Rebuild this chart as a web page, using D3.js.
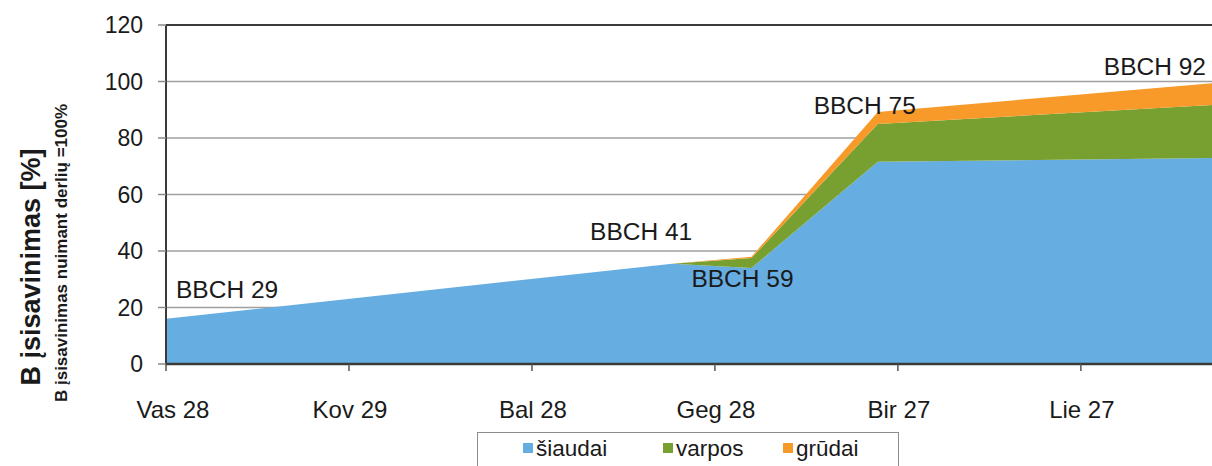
<!DOCTYPE html>
<html>
<head>
<meta charset="utf-8">
<script src="https://cdn.jsdelivr.net/npm/d3@7"></script>
<style>
  html, body { margin: 0; padding: 0; background: #fff; }
  svg { display: block; font-family: "Liberation Sans", Arial, sans-serif; }
</style>
</head>
<body>
<svg id="chart" width="1212" height="466"></svg>
<script>
// x axis ticks (days since Vas 28)
const tickDays = [0, 30, 60, 90, 120, 150];
const tickLabels = ["Vas 28", "Kov 29", "Bal 28", "Geg 28", "Bir 27", "Lie 27"];
const yTicks = [0, 20, 40, 60, 80, 100, 120];

// growth stages and B uptake per plant part (% of uptake at harvest)
const stages = ["BBCH 29", "BBCH 41", "BBCH 59", "BBCH 75", "BBCH 92"];
const stageDays = [0, 83, 96, 116.7, 171.5];
const siaudai = [16, 35.5, 34, 71.6, 72.9];
const varpos = [0, 0, 3.5, 13.4, 18.8];
const grudai = [0, 0, 0.5, 4.2, 7.7];

const keys = ["šiaudai", "varpos", "grūdai"];
const colors = ["#66ade2", "#77a030", "#f79a2a"];

const svg = d3.select("#chart");
const plotLeft = 166, plotRight = 1212, plotTop = 25, plotBottom = 364;

const x = d3.scaleLinear().domain([0, 171.5]).range([plotLeft, plotRight]);
const y = d3.scaleLinear().domain([0, 120]).range([plotBottom, plotTop]);

const rows = stageDays.map((d, i) => ({
  day: d, stage: stages[i],
  "šiaudai": siaudai[i], "varpos": varpos[i], "grūdai": grudai[i]
}));

// gridlines
svg.append("g").selectAll("line").data(yTicks.filter(v => v > 0 && v < 120)).join("line")
  .attr("x1", plotLeft).attr("x2", plotRight)
  .attr("y1", d => y(d)).attr("y2", d => y(d))
  .attr("stroke", "#a0a0a0").attr("stroke-width", 1.5);

// stacked areas
const stack = d3.stack().keys(keys)(rows);
const area = d3.area()
  .x(d => x(d.data.day))
  .y0(d => y(d[0]))
  .y1(d => y(d[1]));

svg.append("g").selectAll("path").data(stack).join("path")
  .attr("d", area)
  .attr("fill", (d, i) => colors[i]);

// frame: left axis, top border, bottom axis
svg.append("line").attr("x1", plotLeft).attr("x2", plotRight).attr("y1", plotTop).attr("y2", plotTop)
  .attr("stroke", "#3a3a3a").attr("stroke-width", 2);
svg.append("line").attr("x1", plotLeft).attr("x2", plotLeft).attr("y1", plotTop).attr("y2", plotBottom)
  .attr("stroke", "#3a3a3a").attr("stroke-width", 2);
svg.append("line").attr("x1", plotLeft).attr("x2", plotRight).attr("y1", plotBottom).attr("y2", plotBottom)
  .attr("stroke", "#3a3a3a").attr("stroke-width", 2.5);

// y ticks + labels
const yAxis = svg.append("g");
yAxis.selectAll("line").data(yTicks).join("line")
  .attr("x1", plotLeft - 8).attr("x2", plotLeft)
  .attr("y1", d => y(d)).attr("y2", d => y(d))
  .attr("stroke", "#8a8a8a").attr("stroke-width", 1.5);
yAxis.selectAll("text").data(yTicks).join("text")
  .attr("x", 143).attr("y", d => y(d) + 8)
  .attr("text-anchor", "end")
  .attr("font-size", 23).attr("fill", "#1a1a1a")
  .text(d => d);

// x ticks + labels
const xAxis = svg.append("g");
xAxis.selectAll("line").data(tickDays).join("line")
  .attr("x1", d => x(d)).attr("x2", d => x(d))
  .attr("y1", plotBottom).attr("y2", plotBottom + 7)
  .attr("stroke", "#555").attr("stroke-width", 1.5);
xAxis.selectAll("text").data(tickDays).join("text")
  .attr("x", (d, i) => x(d) + (i === 0 ? 7 : 1)).attr("y", 418)
  .attr("text-anchor", "middle")
  .attr("font-size", 24).attr("fill", "#1a1a1a")
  .text((d, i) => tickLabels[i]);

// stage labels, placed relative to the top of the stack
const labelOffsets = [
  { dx: 10, dy: -21, anchor: "start" },
  { dx: 20, dy: -24, anchor: "end" },
  { dx: -9, dy: 30, anchor: "middle" },
  { dx: -13, dy: 2, anchor: "middle" },
  { dx: -6, dy: -8, anchor: "end" }
];
svg.append("g").selectAll("text").data(rows).join("text")
  .attr("x", (d, i) => x(d.day) + labelOffsets[i].dx)
  .attr("y", (d, i) => y(d["šiaudai"] + d.varpos + d["grūdai"]) + labelOffsets[i].dy)
  .attr("text-anchor", (d, i) => labelOffsets[i].anchor)
  .attr("font-size", 24.5).attr("fill", "#1a1a1a")
  .text(d => d.stage);

// y axis titles
svg.append("text")
  .attr("transform", "translate(40, 267) rotate(-90)")
  .attr("text-anchor", "middle")
  .attr("font-size", 27).attr("font-weight", "bold").attr("fill", "#1a1a1a")
  .text("B įsisavinimas [%]");
svg.append("text")
  .attr("transform", "translate(67, 253) rotate(-90)")
  .attr("text-anchor", "middle")
  .attr("font-size", 17).attr("font-weight", "bold").attr("fill", "#1a1a1a")
  .text("B įsisavinimas nuimant derlių =100%");

// legend
const legend = svg.append("g");
legend.append("rect")
  .attr("x", 477.5).attr("y", 432.5).attr("width", 421).attr("height", 40)
  .attr("fill", "#fff").attr("stroke", "#8c8c8c").attr("stroke-width", 1);
const legendX = [523, 663, 783];
keys.forEach((k, i) => {
  legend.append("rect")
    .attr("x", legendX[i]).attr("y", 443).attr("width", 10).attr("height", 10)
    .attr("fill", colors[i]);
  legend.append("text")
    .attr("x", legendX[i] + 13).attr("y", 456)
    .attr("font-size", 22.5).attr("fill", "#1a1a1a")
    .text(k);
});
</script>
</body>
</html>
